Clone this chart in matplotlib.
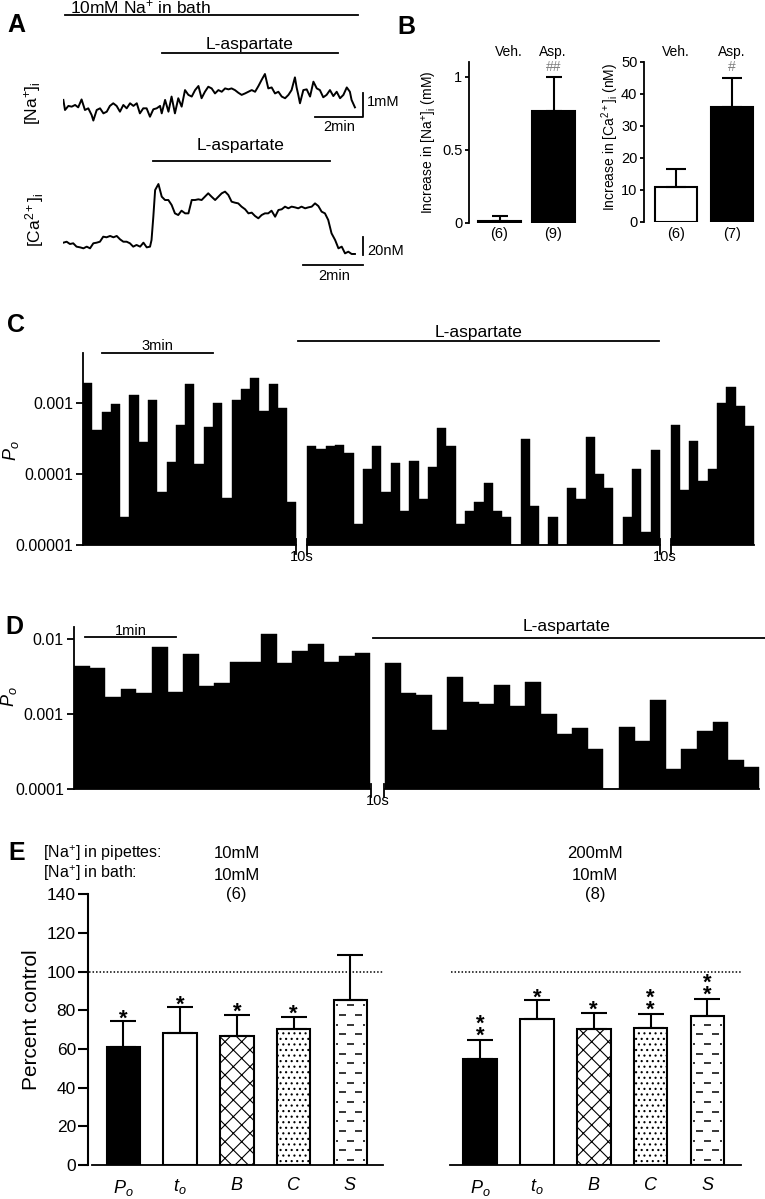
import numpy as np
import matplotlib
matplotlib.use('Agg')
import matplotlib.pyplot as plt
import matplotlib.transforms as mtrans
from matplotlib.ticker import NullLocator

plt.rcParams['font.family'] = ['Liberation Sans', 'DejaVu Sans']
plt.rcParams['mathtext.fontset'] = 'custom'
plt.rcParams['mathtext.rm'] = 'Liberation Sans'
plt.rcParams['mathtext.it'] = 'Liberation Sans:italic'
plt.rcParams['mathtext.bf'] = 'Liberation Sans:bold'
plt.rcParams['hatch.linewidth'] = 0.8

# ---------------- data ----------------
# Panel A: [Na+]i trace (min, mM above baseline)
na_t = [0.00, 0.07, 0.21, 0.35, 0.49, 0.62, 0.76, 0.90, 1.04, 1.18, 1.25, 1.39, 1.53, 1.67, 1.81,
        1.94, 2.08, 2.22, 2.36, 2.50, 2.64, 2.78, 2.92, 3.06, 3.19, 3.33, 3.47, 3.61, 3.75, 3.89,
        4.03, 4.10, 4.24, 4.38, 4.51, 4.65, 4.79, 4.93, 5.07, 5.21, 5.35, 5.49, 5.63, 5.76, 5.90,
        6.04, 6.18, 6.32, 6.46, 6.60, 6.74, 6.88, 7.01, 7.15, 7.29, 7.43, 7.57, 7.71, 7.85, 7.99,
        8.13, 8.26, 8.40, 8.54, 8.68, 8.82, 8.96, 9.10, 9.24, 9.38, 9.51, 9.65, 9.72, 9.79, 9.86,
        10.00, 10.14, 10.28, 10.42, 10.56, 10.69, 10.83, 10.97, 11.11, 11.25, 11.39, 11.53, 11.67,
        11.81, 11.94, 12.01, 12.15]
na_v = [0.42, 0.00, 0.17, 0.14, 0.21, 0.11, 0.44, 0.00, 0.07, -0.21, -0.44, 0.00, 0.07, -0.14, -0.07,
        0.17, 0.28, 0.17, -0.07, 0.21, 0.07, 0.28, 0.17, 0.28, -0.14, 0.07, 0.07, -0.28, 0.03, 0.07,
        0.17, -0.14, 0.42, -0.07, 0.56, -0.14, 0.49, 0.14, 0.83, 0.63, 0.56, 0.83, 1.00, 0.49, 0.76,
        0.97, 0.90, 0.69, 0.83, 0.76, 0.90, 0.86, 0.90, 0.83, 0.72, 0.63, 0.69, 0.76, 0.83, 0.76,
        1.00, 1.25, 1.50, 0.90, 0.94, 0.69, 0.76, 0.56, 0.49, 0.63, 0.83, 1.36, 0.94, 0.63, 0.28,
        0.83, 0.86, 0.56, 1.18, 0.90, 0.83, 0.53, 0.63, 0.83, 0.58, 0.76, 0.49, 0.63,
        0.94, 0.76, 0.42, 0.11]
# Panel A: [Ca2+]i trace (min, nM above baseline)
ca_t = [0.00, 0.11, 0.22, 0.33, 0.44, 0.56, 0.67, 0.78, 0.89, 1.00, 1.11, 1.22, 1.33, 1.44, 1.56,
        1.67, 1.78, 1.89, 2.00, 2.11, 2.22, 2.33, 2.44, 2.56, 2.67, 2.78, 2.89, 2.94, 3.00, 3.06,
        3.17, 3.28, 3.39, 3.50, 3.61, 3.72, 3.83, 3.94, 4.06, 4.17, 4.28, 4.39, 4.50, 4.61, 4.72,
        4.83, 4.94, 5.06, 5.17, 5.28, 5.39, 5.50, 5.61, 5.72, 5.83, 5.94, 6.06, 6.17, 6.28, 6.39,
        6.50, 6.61, 6.72, 6.83, 6.94, 7.06, 7.17, 7.28, 7.39, 7.50, 7.61, 7.72, 7.83, 7.94, 8.06,
        8.17, 8.28, 8.39, 8.50, 8.61, 8.72, 8.83, 8.94, 9.06, 9.17, 9.28, 9.39, 9.50, 9.61, 9.72]
ca_v = [6.4, 7.5, 4.9, 5.7, 1.9, 1.1, 0.0, 1.9, 0.0, 5.7, 6.4, 7.5, 13.2, 12.5, 14.0,
        12.5, 14.0, 10.2, 7.5, 7.5, 5.7, 1.9, 3.8, 1.9, 6.4, 1.1, 1.9, 9.4, 35.8, 66.0,
        72.8, 58.5, 54.7, 54.7, 49.1, 39.6, 37.7, 42.6, 39.6, 39.6, 54.7, 54.7, 55.5, 54.7, 58.5,
        62.3, 58.5, 54.7, 58.5, 62.3, 64.2, 60.4, 52.8, 51.7, 50.9, 47.2, 44.2, 39.6, 40.4, 36.6,
        34.0, 37.7, 39.6, 39.6, 42.6, 35.8, 43.4, 44.2, 47.2, 45.3, 47.2, 46.4, 45.3, 47.2, 45.3,
        46.4, 47.2, 50.9, 47.9, 41.5, 39.6, 32.1, 17.0, 9.4, 0.0, 1.9, -5.7, -3.8, -6.4, -6.4]
na_bath = (0.07, 12.28)     # 10 mM Na+ in bath (min, Na trace time base)
na_asp = (4.12, 11.46)      # L-aspartate application, Na trace
ca_asp = (2.99, 8.89)       # L-aspartate application, Ca trace

# Panel B
b_groups = ['Veh.', 'Asp.']
b_na_mean = [0.01, 0.765]
b_na_err = [0.038, 0.235]
b_na_n = ['(6)', '(9)']
b_na_sig = ['', '##']
b_ca_mean = [10.7, 35.9]
b_ca_err = [5.7, 8.9]
b_ca_n = ['(6)', '(7)']
b_ca_sig = ['', '#']

# Panel C: Po per bin, three segments separated by 10 s breaks
c_seg1 = [1.9e-3, 4.2e-4, 7.5e-4, 9.6e-4, 2.5e-5, 1.28e-3, 2.85e-4, 1.1e-3, 5.5e-5, 1.46e-4,
          4.85e-4, 1.83e-3, 1.37e-4, 4.64e-4, 1.0e-3, 4.55e-5, 1.11e-3, 1.59e-3, 2.27e-3, 7.8e-4,
          1.83e-3, 8.4e-4, 4.0e-5]
c_seg2 = [2.5e-4, 2.25e-4, 2.45e-4, 2.6e-4, 2.0e-4, 2.0e-5, 1.16e-4, 2.5e-4, 5.6e-5, 1.44e-4,
          3.0e-5, 1.51e-4, 4.5e-5, 1.26e-4, 4.45e-4, 2.5e-4, 2.0e-5, 3.0e-5, 4.0e-5, 7.5e-5,
          3.0e-5, 2.5e-5, 1.0e-5, 3.14e-4, 3.5e-5, 1.0e-5, 2.5e-5, 1.0e-5, 6.4e-5, 4.5e-5,
          3.35e-4, 1.0e-4, 6.4e-5, 1.0e-5, 2.5e-5, 1.19e-4, 1.5e-5, 2.2e-4]
c_seg3 = [4.85e-4, 6.0e-5, 2.9e-4, 8.0e-5, 1.19e-4, 1.0e-3, 1.7e-3, 9.2e-4, 4.7e-4]
c_ticks = [1e-5, 1e-4, 1e-3]
c_ticklabels = ['0.00001', '0.0001', '0.001']

# Panel D
d_seg1 = [4.4e-3, 4.1e-3, 1.69e-3, 2.19e-3, 1.92e-3, 7.8e-3, 1.98e-3, 6.4e-3, 2.4e-3, 2.59e-3,
          4.93e-3, 4.93e-3, 1.17e-2, 4.88e-3, 7.05e-3, 8.66e-3, 5.03e-3, 6.0e-3, 6.5e-3]
d_seg2 = [4.83e-3, 1.9e-3, 1.83e-3, 6.2e-4, 3.17e-3, 1.45e-3, 1.37e-3, 2.48e-3, 1.28e-3, 2.72e-3,
          1.0e-3, 5.4e-4, 6.6e-4, 3.4e-4, 1.0e-4, 6.8e-4, 4.4e-4, 1.54e-3, 1.85e-4, 3.4e-4,
          5.9e-4, 7.8e-4, 2.44e-4, 1.98e-4]
d_ticks = [1e-4, 1e-3, 1e-2]
d_ticklabels = ['0.0001', '0.001', '0.01']

# Panel E
e_labels = ['$P_o$', '$t_o$', '$B$', '$C$', '$S$']
e10_mean = [61.2, 68.1, 66.7, 70.2, 85.3]
e10_err = [13.3, 13.5, 11.1, 6.5, 23.3]
e10_sig = ['*', '*', '*', '*', '']
e200_mean = [54.8, 75.3, 70.3, 70.7, 77.2]
e200_err = [9.9, 10.0, 8.5, 7.4, 8.7]
e200_sig = ['**', '*', '*', '**', '**']
e_ticks = [0, 20, 40, 60, 80, 100, 120, 140]

# ---------------- figure ----------------
W, H = 765, 1199
fig = plt.figure(figsize=(W / 100, H / 100), dpi=100)


def rect(l, t, r, b):
    return [l / W, 1 - b / H, (r - l) / W, (b - t) / H]


def fy(py):
    return 1 - py / H


def bt(ax):
    return mtrans.blended_transform_factory(ax.transData, fig.transFigure)


def bta(ax):
    return mtrans.blended_transform_factory(ax.transData, ax.transAxes)


LW = 1.3

# ----- Panel A -----
axn = fig.add_axes(rect(63.33, 40, 370, 125))
axn.plot(na_t, na_v, color='k', lw=1.4)
axn.set_xlim(0, (370 - 63.33) / 24)
axn.set_ylim((110 - 125) / 24, (110 - 40) / 24)
axn.axis('off')
axn.plot([10.49, 12.49, 12.49], [-0.29, -0.29, 0.71], color='k', lw=LW, clip_on=False)
axn.plot(na_bath, [3.96, 3.96], color='k', lw=LW, clip_on=False)
axn.plot(na_asp, [2.39, 2.39], color='k', lw=LW, clip_on=False)

axc = fig.add_axes(rect(63.33, 135, 370, 275))
axc.plot(ca_t, ca_v, color='k', lw=1.4)
axc.set_xlim(0, (370 - 63.33) / 30)
axc.set_ylim((248.33 - 275) / 0.8833, (248.33 - 135) / 0.8833)
axc.axis('off')
axc.plot([10.0, 10.0], [-7.5, 12.5], color='k', lw=LW, clip_on=False)
axc.plot([8.0, 10.0], [-18.9, -18.9], color='k', lw=LW, clip_on=False)
axc.plot(ca_asp, [98.9, 98.9], color='k', lw=LW, clip_on=False)

# ----- Panel B -----
def panel_b(ax, means, errs, ns, sigs, faces, ylim, yticks, yticklabels, xlim, width, capsize,
            grp_dx):
    x = np.arange(len(means))
    ax.bar(x, means, width=width, color=faces, edgecolor='k', lw=1.5, zorder=2)
    ax.errorbar(x, means, yerr=[np.zeros(len(means)), errs], fmt='none', ecolor='k',
                elinewidth=1.5, capsize=capsize, capthick=1.5, zorder=3)
    ax.set_xlim(*xlim)
    ax.set_ylim(*ylim)
    ax.set_yticks(yticks)
    ax.set_yticklabels(yticklabels)
    ax.set_xticks([])
    for s in ['top', 'right', 'bottom']:
        ax.spines[s].set_visible(False)
    ax.spines['left'].set_linewidth(LW)
    ax.tick_params(axis='y', length=3, width=LW, labelsize=10.5, pad=2)
    ax.patch.set_visible(False)
    for i in range(len(means)):
        ax.text(x[i] + grp_dx[i], fy(52), b_groups[i], transform=bt(ax), ha='center',
                va='center', fontsize=10)
        ax.text(x[i], fy(234), ns[i], transform=bt(ax), ha='center', va='center', fontsize=10.5)
        if sigs[i]:
            ax.text(x[i], fy(67), sigs[i], transform=bt(ax), ha='center', va='center',
                    fontsize=10, color='#808080')


axb1 = fig.add_axes(rect(469.3, 62.1, 580, 222.7))
panel_b(axb1, b_na_mean, b_na_err, b_na_n, b_na_sig, ['w', 'k'], (0, 1.1), [0, 0.5, 1],
        ['0', '0.5', '1'], (-0.56, 1.49), 0.78, 5.5, [0.17, -0.02])
axb2 = fig.add_axes(rect(644.3, 61.7, 765, 221.7))
panel_b(axb2, b_ca_mean, b_ca_err, b_ca_n, b_ca_sig, ['w', 'k'], (0, 50), [0, 10, 20, 30, 40, 50],
        ['0', '10', '20', '30', '40', '50'], (-0.575, 1.6), 0.76, 7, [0.0, 0.0])

# ----- Panels C & D (log histograms with breaks) -----
def log_hist(ax, segs, starts, ybot, ytop, xlim, ticks, ticklabels, breaks):
    ax.set_yscale('log')
    ax.set_ylim(ybot, ytop)
    ax.set_xlim(*xlim)
    for vals, s in zip(segs, starts):
        v = np.array(vals)
        ax.bar(s + np.arange(len(v)), v - ybot, bottom=ybot, width=1.0, align='edge',
               color='k', edgecolor='k', lw=0.3)
        ax.plot([s, s + len(v)], [ybot, ybot], color='k', lw=LW, clip_on=False)
    for b in breaks:
        ax.plot([b, b], [-0.045, 0.03], transform=bta(ax), color='k', lw=LW, clip_on=False)
    for s in ['top', 'right', 'bottom']:
        ax.spines[s].set_visible(False)
    ax.spines['left'].set_linewidth(LW)
    ax.set_yticks(ticks)
    ax.set_yticklabels(ticklabels)
    ax.yaxis.set_minor_locator(NullLocator())
    ax.set_xticks([])
    ax.tick_params(axis='y', length=5, width=LW, labelsize=11.5, pad=2)
    ax.patch.set_visible(False)


c_starts = [0, 24.15, 63.3]
axC = fig.add_axes(rect(83, 353, 755, 545))
log_hist(axC, [c_seg1, c_seg2, c_seg3], c_starts, 1e-5, 10 ** (-3 + 50 / 71), (0, 72.4),
         c_ticks, c_ticklabels, [23.0, 24.15, 62.15, 63.3])
for xm in [(23.0 + 24.15) / 2, (62.15 + 63.3) / 2]:
    axC.text(xm, fy(557), '10s', transform=bt(axC), ha='center', va='center', fontsize=10.5)
axC.plot([2.05, 14.05], [1.0, 1.0], transform=bta(axC), color='k', lw=LW, clip_on=False)
axC.text(8.05, 1.016, '3min', transform=bta(axC), ha='center', va='baseline', fontsize=10.5)
axC.plot([23.2, 62.1], [1.0625, 1.0625], transform=bta(axC), color='k', lw=LW, clip_on=False)
axC.text((23.2 + 62.1) / 2, 1.085, 'L-aspartate', transform=bta(axC), ha='center',
         va='baseline', fontsize=12.5)

d_starts = [0, 19.94]
axD = fig.add_axes(rect(73.5, 626.7, 765, 789.3))
log_hist(axD, [d_seg1, d_seg2], d_starts, 1e-4, 10 ** (-2 + 12.6 / 75), (-0.03, 44.3),
         d_ticks, d_ticklabels, [19.05, 19.85])
axD.text(19.45, fy(801), '10s', transform=bt(axD), ha='center', va='center', fontsize=10.5)
axD.plot([0.7, 6.54], [0.935, 0.935], transform=bta(axD), color='k', lw=LW, clip_on=False)
axD.text(3.62, 0.949, '1min', transform=bta(axD), ha='center', va='baseline', fontsize=10.5)
axD.plot([19.17, 44.3], [0.9287, 0.9287], transform=bta(axD), color='k', lw=LW, clip_on=False)
axD.text(31.6, 0.9735, 'L-aspartate', transform=bta(axD), ha='center', va='baseline',
         fontsize=12.5)

# ----- Panel E -----
e_face = ['k', 'w', 'w', 'w', 'w']
e_hatch = ['', '', 'xx', '...', '']
BW = 0.59
STAR_FS = 16
STAR_C = 0.575 * STAR_FS / 0.72   # px from baseline to asterisk centre


def panel_e(ax, means, errs, sigs, xlim, left_axis):
    x = np.arange(len(means))
    for i in range(len(means)):
        ax.bar(x[i], means[i], width=BW, color=e_face[i], edgecolor='k', lw=1.5,
               hatch=e_hatch[i], zorder=2)
    # dashed fill for S bar
    i = 4
    x0, x1 = x[i] - BW / 2, x[i] + BW / 2
    row = 0
    yy = 2.6
    while yy < means[i] - 2.0:
        off = 0.0 if row % 2 == 0 else 0.14
        for cx in np.arange(x0 + 0.02 + off, x1 + 0.3, 0.28):
            a, b = max(cx - 0.06, x0 + 0.035), min(cx + 0.06, x1 - 0.035)
            if b - a > 0.03:
                ax.plot([a, b], [yy, yy], color='k', lw=1.1, zorder=2.5, solid_capstyle='butt')
        yy += 5.0
        row += 1
    ax.errorbar(x, means, yerr=[np.zeros(len(means)), errs], fmt='none', ecolor='k',
                elinewidth=1.5, capsize=9.4, capthick=1.5, zorder=3)
    for i, s in enumerate(sigs):
        if not s:
            continue
        top = means[i] + errs[i]
        if len(s) == 1:
            txt, o = '*', 9.5
        else:
            txt, o = '*\n*', 10.7
        ax.annotate(txt, (x[i], top), xytext=(0, (o - STAR_C) * 0.72), textcoords='offset points',
                    ha='center', va='baseline', fontsize=STAR_FS, fontweight='bold',
                    linespacing=0.48, zorder=4)
    ax.hlines(100, xlim[0] + 0.02, xlim[1], colors='k', linestyles=(0, (1, 1.3)), lw=1.1)
    ax.set_xlim(*xlim)
    ax.set_ylim(0, 140)
    ax.set_xticks(x)
    ax.set_xticklabels(e_labels, fontsize=13)
    ax.tick_params(axis='x', length=0, pad=9)
    for s in ['top', 'right']:
        ax.spines[s].set_visible(False)
    ax.spines['bottom'].set_linewidth(LW)
    ax.spines['bottom'].set_bounds(xlim[0] + 0.07 if left_axis else xlim[0], xlim[1])
    if left_axis:
        ax.spines['left'].set_linewidth(1.5)
        ax.set_yticks(e_ticks)
        ax.tick_params(axis='y', length=7, width=1.5, labelsize=12.5, pad=1.5)
    else:
        ax.spines['left'].set_visible(False)
        ax.set_yticks([])
    ax.patch.set_visible(False)


axe1 = fig.add_axes(rect(87.7, 894.3, 382.7, 1165))
panel_e(axe1, e10_mean, e10_err, e10_sig, (-0.628, 4.57), True)
axe2 = fig.add_axes(rect(450, 894.3, 741, 1165))
panel_e(axe2, e200_mean, e200_err, e200_sig, (-0.528, 4.59), False)

# ----- overlay text -----
ov = fig.add_axes([0, 0, 1, 1], zorder=10)
ov.set_xlim(0, W)
ov.set_ylim(H, 0)
ov.axis('off')

for lab, (px, py) in zip('ABCDE', [(16.5, 25), (406, 27.5), (16, 325), (14, 627), (16.5, 853)]):
    ov.text(px, py, lab, fontsize=18, fontweight='bold', ha='center', va='center')

ov.text(140, 13, '10mM Na$^{+}$ in bath', fontsize=12.5, ha='center', va='baseline')
ov.text(250, 48.5, 'L-aspartate', fontsize=12.5, ha='center', va='baseline')
ov.text(241, 150, 'L-aspartate', fontsize=12.5, ha='center', va='baseline')
ov.text(367, 102, '1mM', fontsize=10.5, ha='left', va='center')
ov.text(339, 127, '2min', fontsize=10.5, ha='center', va='center')
ov.text(367, 251, '20nM', fontsize=10.5, ha='left', va='center')
ov.text(334, 276, '2min', fontsize=10.5, ha='center', va='center')
ov.text(33, 103, '[Na$^{+}$]$_{\\mathrm{i}}$', fontsize=12.5, rotation=90, ha='center', va='center')
ov.text(35, 220, '[Ca$^{2+}$]$_{\\mathrm{i}}$', fontsize=12.5, rotation=90, ha='center', va='center')

ov.text(430, 142, 'Increase in [Na$^{+}$]$_{\\mathrm{i}}$ (mM)', fontsize=10, rotation=90,
        ha='center', va='center')
ov.text(610, 137, 'Increase in [Ca$^{2+}$]$_{\\mathrm{i}}$ (nM)', fontsize=10, rotation=90,
        ha='center', va='center')

ov.text(11, 451, '$P_o$', fontsize=13, rotation=90, ha='center', va='center')
ov.text(9, 697, '$P_o$', fontsize=13, rotation=90, ha='center', va='center')

ov.text(43, 853, '[Na$^{+}$] in pipettes:', fontsize=11.5, ha='left', va='center')
ov.text(43, 873, '[Na$^{+}$] in bath:', fontsize=11.5, ha='left', va='center')
for cx, lines in [(236.7, ['10mM', '10mM', '(6)']), (595, ['200mM', '10mM', '(8)'])]:
    for ly, t in zip([854, 875, 895], lines):
        ov.text(cx, ly, t, fontsize=12, ha='center', va='center')
ov.text(31.7, 1020, 'Percent control', fontsize=15, rotation=90, ha='center', va='center')

fig.savefig('out.png', dpi=100)
